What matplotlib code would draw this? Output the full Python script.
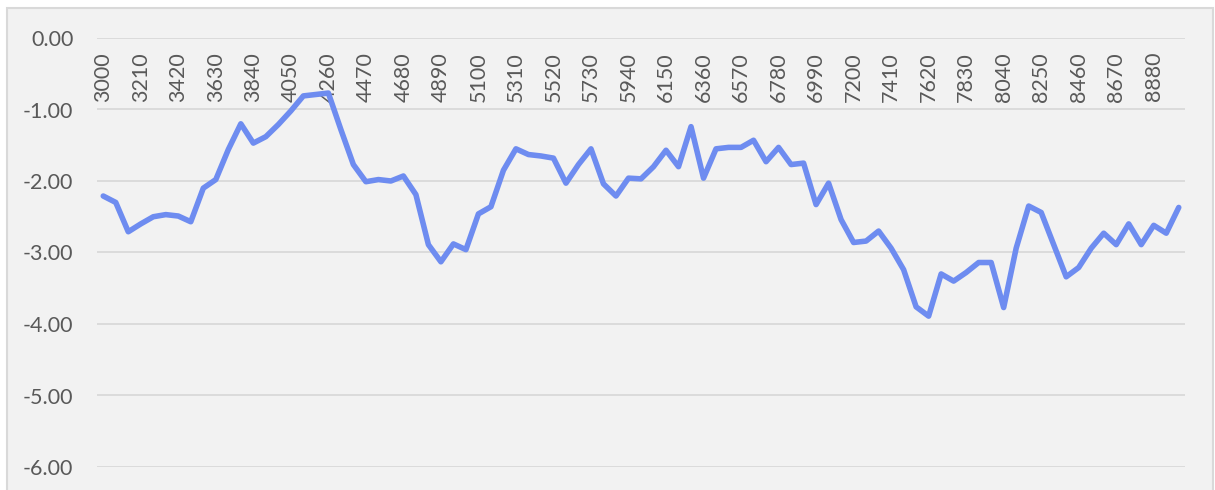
import matplotlib
matplotlib.use('Agg')
import matplotlib.pyplot as plt
from matplotlib.patches import Rectangle

# x categories: 3000 .. 9020 step 70
categories = list(range(3000, 9021, 70))

values = [
    -2.21, -2.30, -2.71, -2.60, -2.50, -2.47, -2.49, -2.57, -2.10, -1.98,
    -1.56, -1.20, -1.47, -1.38, -1.21, -1.02, -0.81, -0.79, -0.77, -1.28,
    -1.77, -2.01, -1.98, -2.00, -1.93, -2.19, -2.89, -3.13, -2.88, -2.96,
    -2.46, -2.36, -1.85, -1.55, -1.63, -1.65, -1.68, -2.03, -1.77, -1.55,
    -2.04, -2.21, -1.96, -1.97, -1.80, -1.57, -1.80, -1.24, -1.96, -1.55,
    -1.53, -1.53, -1.43, -1.73, -1.53, -1.77, -1.75, -2.33, -2.03, -2.54,
    -2.86, -2.84, -2.70, -2.94, -3.24, -3.76, -3.89, -3.30, -3.40, -3.28,
    -3.14, -3.14, -3.77, -2.94, -2.35, -2.44, -2.89, -3.34, -3.21, -2.94,
    -2.73, -2.89, -2.60, -2.89, -2.62, -2.73, -2.37,
]

y_ticks = [0, -1, -2, -3, -4, -5, -6]
y_labels = ['0.00', '-1.00', '-2.00', '-3.00', '-4.00', '-5.00', '-6.00']

plt.rcParams['font.family'] = ['Lato', 'DejaVu Sans']

fig = plt.figure(figsize=(12.15, 4.9), dpi=100, facecolor='white')
# chart area background with light border
fig.patches.append(Rectangle((7 / 1215, -0.05), 1206 / 1215, 1.05 - 8 / 490,
                             transform=fig.transFigure, facecolor='#F2F2F2',
                             edgecolor='#D9D9D9', linewidth=1.5, zorder=-10))

ax = fig.add_axes([97 / 1215, 1 - 467 / 490, 1088 / 1215, 429 / 490])
ax.set_facecolor('none')

# category axis crosses at 0, labels hang below it (set before ticks)
for s in ['left', 'right', 'top']:
    ax.spines[s].set_visible(False)
ax.spines['bottom'].set_position(('data', 0))
ax.spines['bottom'].set_visible(False)

idx = list(range(len(categories)))
ax.plot(idx, values, color='#6E8CF0', linewidth=4.0,
        solid_joinstyle='round', solid_capstyle='round', zorder=3)

ax.set_xlim(-0.5, len(categories) - 0.5)
ax.set_ylim(-6, 0)

ax.set_yticks(y_ticks)
ax.set_yticklabels(y_labels)
ax.yaxis.grid(True, color='#D9D9D9', linewidth=1.3)
ax.set_axisbelow(True)

ax.set_xticks(idx[::3])
ax.set_xticklabels([str(c) for c in categories[::3]], rotation=90)

ax.tick_params(axis='both', length=0, labelsize=15.5, colors='#595959')
ax.tick_params(axis='x', pad=10)
ax.tick_params(axis='y', pad=17)

fig.savefig('out.png', dpi=100, facecolor='white')
